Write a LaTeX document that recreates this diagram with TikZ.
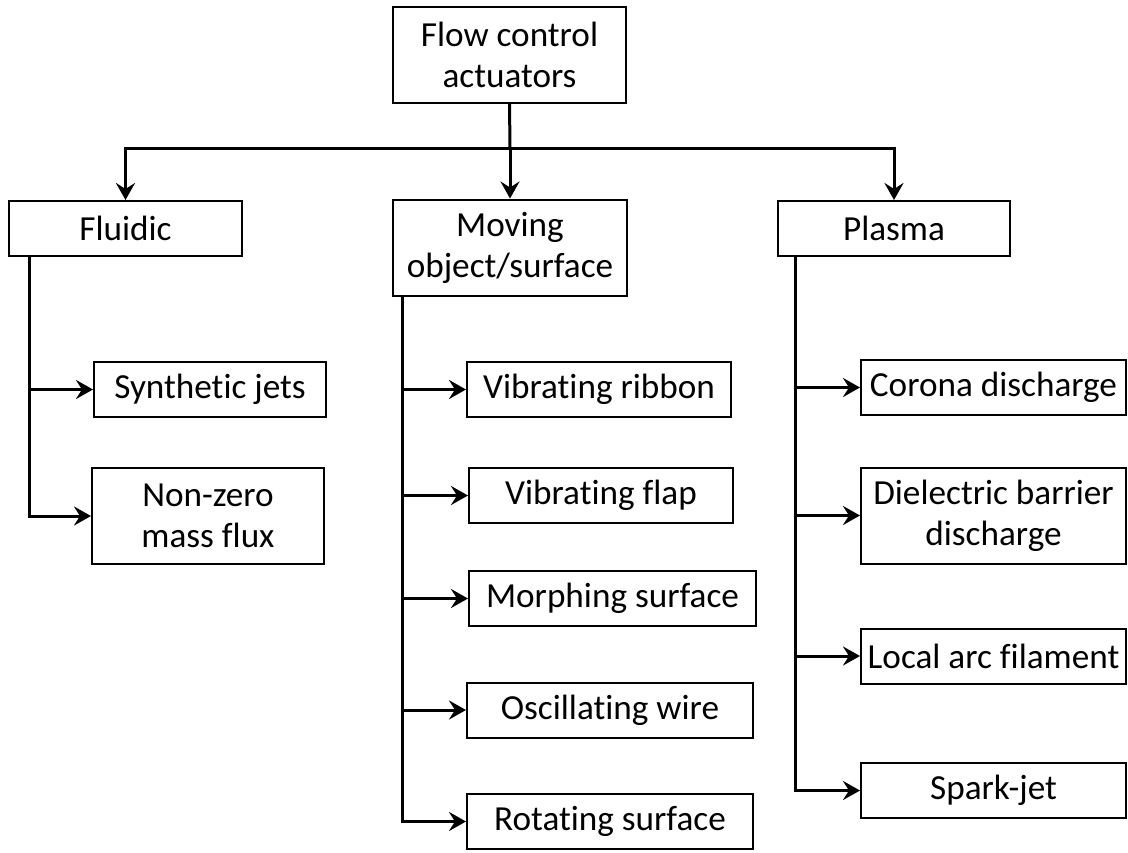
\documentclass[tikz,border=0pt]{standalone}
\usepackage{fontspec}
\setmainfont{Carlito}[Ligatures=NoCommon]
\usetikzlibrary{arrows.meta}

\begin{document}
\begin{tikzpicture}[
  x=0.5pt, y=-0.5pt,
  box/.style={draw, line width=1pt, align=center, inner sep=0pt, minimum height=27.5pt, font=\fontsize{17.6pt}{20.5pt}\selectfont},
  tallbox/.style={box, minimum height=48pt},
  line/.style={line width=1.5pt},
  arr/.style={-{Stealth[length=8.5pt, width=9.5pt, inset=3pt]}, line width=1.5pt}
]
\fill[white] (0,0) rectangle (1128,852);
\useasboundingbox (0,0) rectangle (1128,852);

\node[tallbox, minimum width=116.5pt] (root) at (509.5,55) {Flow control\\actuators};
\node[box, minimum width=116.5pt] (fluid) at (125.5,228.5) {Fluidic};
\node[tallbox, minimum width=117pt] (moving) at (510,247.5) {Moving\\object/surface};
\node[box, minimum width=116pt] (plasma) at (894,228.5) {Plasma};

\node[box, minimum width=116pt] (synth) at (210,389.5) {Synthetic jets};
\node[tallbox, minimum width=116pt] (nzmf) at (208,516) {Non-zero\\mass flux};

\node[box, minimum width=132pt] (ribbon) at (599,389.5) {Vibrating ribbon};
\node[box, minimum width=132pt] (flap) at (601,495.5) {Vibrating flap};
\node[box, minimum width=143.5pt] (morph) at (612.5,598.5) {Morphing surface};
\node[box, minimum width=143pt] (wire) at (610,710) {Oscillating wire};
\node[box, minimum width=143pt] (rotate) at (610,821.5) {Rotating surface};

\node[box, minimum width=132.5pt] (corona) at (993.5,387.5) {Corona discharge};
\node[tallbox, minimum width=132.5pt] (dbd) at (993.5,515.5) {Dielectric barrier\\discharge};
\node[box, minimum width=132.5pt] (arc) at (993.5,656) {Local arc filament};
\node[box, minimum width=132.5pt] (spark) at (993.5,790.5) {Spark-jet};

\coordinate (bar) at (510,148);
\draw[line] (root.south) -- (bar);
\draw[arr] (bar) -| (fluid.north);
\draw[arr] (bar) -| (plasma.north);
\draw[arr] (bar) -- (moving.north);

\coordinate (ftrunk) at ([xshift=10.5pt]fluid.south west);
\draw[arr] (ftrunk) |- (nzmf.west);
\draw[arr] (ftrunk |- synth.west) -- (synth.west);

\coordinate (mtrunk) at ([xshift=5pt]moving.south west);
\draw[arr] (mtrunk) |- (rotate.west);
\foreach \n in {ribbon,flap,morph,wire}
  \draw[arr] (mtrunk |- \n.west) -- (\n.west);

\coordinate (ptrunk) at ([xshift=9pt]plasma.south west);
\draw[arr] (ptrunk) |- (spark.west);
\foreach \n in {corona,dbd,arc}
  \draw[arr] (ptrunk |- \n.west) -- (\n.west);
\end{tikzpicture}
\end{document}
